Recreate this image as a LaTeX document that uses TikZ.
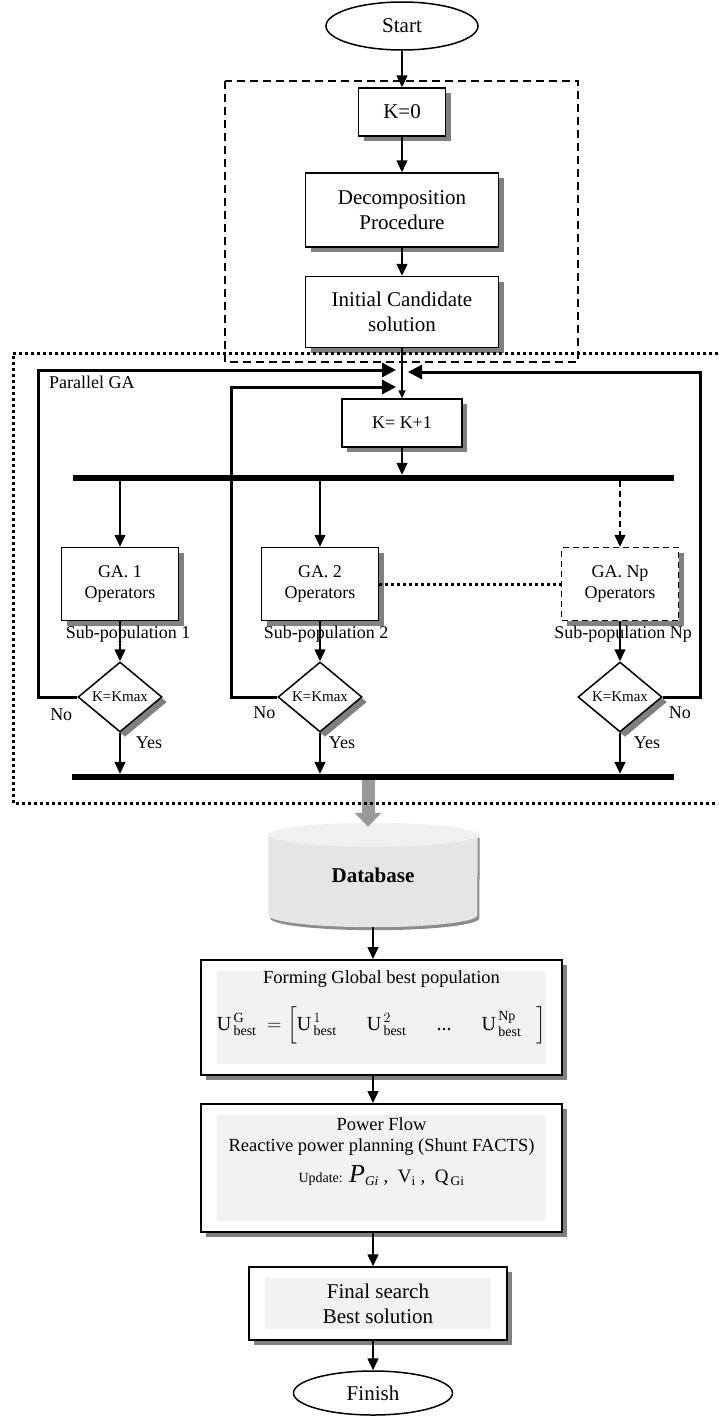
\RequirePackage{fix-cm}
\documentclass[tikz,border=0pt]{standalone}
\usepackage{amsmath}
\usepackage{fontspec}
\setmainfont{Liberation Serif}
\usetikzlibrary
  {
    arrows.meta,              % arrow heads
    shapes.geometric,         % ellipse and diamond nodes
    shadows,                  % gray shadows behind the boxes
    backgrounds,              % database body behind its label
    positioning,              % place nodes relative to other nodes
    calc,
  }

\tikzset{
  fsize/.style 2 args={font=\fontsize{#1}{#2}\selectfont},
  boxshadow/.style={drop shadow={shadow xshift=5pt,shadow yshift=-5pt,fill=black!50,opacity=1}},
  terminal/.style={ellipse,draw,line width=1.5pt,minimum width=152pt,minimum height=48pt,inner sep=0pt,fsize={21}{25}},
  stepbox/.style={rectangle,draw,line width=1.5pt,fill=white,boxshadow,align=center,inner sep=2pt,fsize={21}{25}},
  gabox/.style={stepbox,minimum width=117pt,minimum height=73pt,fsize={18}{21}},
  decision/.style={diamond,draw,line width=1.5pt,fill=white,boxshadow,inner sep=0pt,minimum width=84pt,minimum height=70pt,fsize={15}{18}},
  panel/.style={path picture={\fill[black!5] ($(path picture bounding box.north west)+(16,11)$) rectangle ($(path picture bounding box.south east)+(-16,-11)$);}},
  bigbox/.style={stepbox,line width=2pt,minimum width=361pt,panel},
  bus/.style={rectangle,fill=black,inner sep=0pt,minimum height=6pt},
  lbl/.style={inner sep=0pt,fsize={18}{21}},
  flowline/.style={line width=1.5pt,-{Triangle[length=12pt,width=11pt]}},
  backline/.style={line width=3pt,-{Triangle[length=14pt,width=14pt]}},
  dbarrow/.style={line width=13pt,draw=black!40,-{Triangle[length=14pt,width=26pt]}},
  dashframe/.style={line width=2pt,dash pattern=on 8pt off 5pt},
  dotframe/.style={line width=3pt,dash pattern=on 3pt off 3pt},
}

\begin{document}
\begin{tikzpicture}[x=1pt,y=-1pt]
  \useasboundingbox (0,0) rectangle (718,1416);

  % initialisation
  \draw[dashframe] (225,81) rectangle (578,362);
  \node[terminal] (start) at (402,26) {Start};
  \node[stepbox,minimum width=87pt,minimum height=48pt] (k0) at (402,112) {K=0};
  \node[stepbox,minimum width=193pt,minimum height=74pt] (dec) at (402,210) {Decomposition\\Procedure};
  \node[stepbox,minimum width=193pt,minimum height=71pt] (init) at (402,312) {Initial Candidate\\solution};
  \draw[flowline] (start) -- (k0);
  \draw[flowline] (k0) -- (dec);
  \draw[flowline] (dec) -- (init);

  % parallel GA
  \node[stepbox,minimum width=120pt,minimum height=48pt,fsize={18}{21}] (kk) at (402,423) {K= K+1};
  \node[lbl,anchor=west] (pga) at (49,382) {Parallel GA};
  \coordinate (jL1) at (396,370);
  \coordinate (jL2) at (396,387);
  \coordinate (jR) at (408,372);
  \draw[line width=1.5pt,-{Triangle[length=8pt,width=7pt]}] (init.south) -- (kk.north);

  \node[bus,minimum width=601pt] (bus1) at (373.5,478) {};
  \draw[flowline] (kk.south) -- (kk.south |- bus1.north);

  \node[gabox] (ga1) at (120,584) {GA. 1\\Operators};
  \node[gabox] (ga2) at (320,584) {GA. 2\\Operators};
  \node[gabox,dashed,dash pattern=on 6pt off 4pt] (ganp) at (620,584) {GA. Np\\Operators};
  \draw[flowline] (bus1.south -| ga1.north) -- (ga1.north);
  \draw[flowline] (bus1.south -| ga2.north) -- (ga2.north);
  \draw[flowline,dash pattern=on 6pt off 4pt] (bus1.south -| ganp.north) -- (ganp.north);
  \draw[dotframe] (ga2.east) -- (ganp.west);

  \node[lbl,below=5pt of ga1.south,xshift=8pt] (sub1) {Sub-population 1};
  \node[lbl,below=5pt of ga2.south,xshift=6pt] (sub2) {Sub-population 2};
  \node[lbl,below=5pt of ganp.south,xshift=3pt] (subnp) {Sub-population Np};

  \node[decision] (d1) at (120,697) {K=Kmax};
  \node[decision] (d2) at (320,697) {K=Kmax};
  \node[decision] (d3) at (620,697) {K=Kmax};
  \draw[flowline] (ga1) -- (d1);
  \draw[flowline] (ga2) -- (d2);
  \draw[flowline] (ganp) -- (d3);

  \node[lbl] (no1) at ($(d1.west)+(-16,18)$) {No};
  \node[lbl] (no2) at ($(d2.west)+(-13,16)$) {No};
  \node[lbl] (no3) at ($(d3.east)+(17,16)$) {No};
  \node[lbl] (yes1) at ($(d1.south)+(29,10)$) {Yes};
  \node[lbl] (yes2) at ($(d2.south)+(22,10)$) {Yes};
  \node[lbl] (yes3) at ($(d3.south)+(27,10)$) {Yes};

  % back to K= K+1
  \draw[backline] (d1.west) -- ++(-39,0) |- (jL1);
  \draw[backline] (d2.west) -- ++(-46,0) |- (jL2);
  \draw[backline] (d3.east) -- ++(38,0) |- (jR);

  \node[bus,minimum width=602pt] (bus2) at (373,777) {};
  \draw[flowline] (d1.south) -- (d1.south |- bus2.north);
  \draw[flowline] (d2.south) -- (d2.south |- bus2.north);
  \draw[flowline] (d3.south) -- (d3.south |- bus2.north);

  % database
  \node[inner sep=0pt,minimum width=209pt,minimum height=104pt,fsize={21}{25}] (db) at (373,875) {\textbf{Database}};
  \begin{scope}[on background layer]
    \fill[black!45] ($(db.north west)+(2,15)$) -- ($(db.south west)+(2,-9)$)
      arc[start angle=180,end angle=0,x radius=104.5,y radius=12] -- ($(db.north east)+(2,15)$) -- cycle;
    \fill[black!10] ($(db.north west)+(0,12)$) -- ($(db.south west)+(0,-12)$)
      arc[start angle=180,end angle=0,x radius=104.5,y radius=12] -- ($(db.north east)+(0,12)$) -- cycle;
    \fill[black!6] ($(db.north)+(0,12)$) ellipse[x radius=104.5,y radius=12];
  \end{scope}
  \coordinate (dbin) at ($(db.north)+(-5,4)$);
  \draw[dbarrow] (bus2.south -| dbin) -- (dbin);
  \draw[dotframe] (718,353) -| (13,803) -- (718,803);

  % global best population
  \node[bigbox,minimum height=115pt] (form) at (381.5,1017.5) {};
  \node[lbl,fsize={18.5}{22}] (formtxt) at ($(form.north)+(0,20)$) {Forming Global best population};
  \node[lbl,fsize={20}{24}] (ubest) at ($(form.north)+(0,66)$)
    {$\text{U}^{\,\text{G}}_{\,\text{best}}\ = \Big[\text{U}^{\,1}_{\,\text{best}}\quad\ \ \text{U}^{\,2}_{\,\text{best}}\quad\ \ \text{...}\quad\ \ \text{U}^{\,\text{Np}}_{\,\text{best}}\ \ \ \Big]$};
  \draw[flowline] (db.south) -- (db.south |- form.north);

  % power flow
  \node[bigbox,minimum height=128pt] (pf) at (381.5,1168) {};
  \node[lbl,fsize={18.5}{21},align=center] (pftxt) at ($(pf.north)+(0,34)$) {Power Flow\\Reactive power planning (Shunt FACTS)};
  \node[lbl,fsize={19}{22}] (upd) at ($(pf.north)+(0,73)$)
    {{\fontsize{14}{16}\selectfont Update:} {\fontsize{26}{28}\selectfont\textit{P}}$_{\textit{Gi}}$\ ,\ \ V$_{\text{i}}$\ ,\ \ Q$_{\,\text{Gi}}$};
  \draw[flowline] (form.south -| db.south) -- (pf.north -| db.south);

  % final
  \node[stepbox,panel,minimum width=258pt,minimum height=73pt] (fin) at (378,1303.5) {Final search\\Best solution};
  \node[terminal,minimum width=159pt,minimum height=44pt] (finish) at (373,1393) {Finish};
  \draw[flowline] (pf.south -| finish.north) -- (fin.north -| finish.north);
  \draw[flowline] (fin.south -| finish.north) -- (finish.north);
\end{tikzpicture}
\end{document}
